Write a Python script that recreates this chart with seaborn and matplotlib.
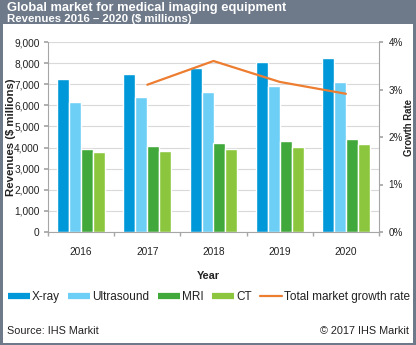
import matplotlib
matplotlib.use("Agg")
import matplotlib.pyplot as plt
import seaborn as sns
import pandas as pd
from matplotlib.patches import Rectangle
from matplotlib.lines import Line2D
from matplotlib.ticker import FuncFormatter, FixedLocator

years = ["2016", "2017", "2018", "2019", "2020"]
modalities = ["X-ray", "Ultrasound", "MRI", "CT"]
xray = [7230, 7470, 7780, 8040, 8260]
ultrasound = [6170, 6410, 6650, 6910, 7110]
mri = [3950, 4060, 4230, 4330, 4420]
ct = [3790, 3840, 3920, 4030, 4170]
growth_years = ["2017", "2018", "2019", "2020"]
growth_rate = [3.10, 3.60, 3.16, 2.91]
y_ticks = [0, 1000, 2000, 3000, 4000, 5000, 6000, 7000, 8000, 9000]
y2_ticks = [0, 1, 2, 3, 4]

colors = ["#0098d8", "#6dcff6", "#41a83b", "#8cc63f"]
line_color = "#ed7d31"
frame_gray = "#6e7a8a"
grid_gray = "#d9d9d9"
axis_gray = "#a6a6a6"
text_color = "#222222"

sns.set_theme(style="white")
plt.rcParams["font.family"] = ["Liberation Sans", "DejaVu Sans"]

df = pd.DataFrame({
    "Year": years * 4,
    "Modality": sum([[m] * len(years) for m in modalities], []),
    "Revenue": xray + ultrasound + mri + ct,
})

fig = plt.figure(figsize=(4.16, 3.45), dpi=100)
fig.patch.set_facecolor("white")
W, H = 416, 345

ax = fig.add_axes([48 / W, 1 - 232 / H, 331 / W, 190 / H])
sns.barplot(data=df, x="Year", y="Revenue", hue="Modality", order=years,
            hue_order=modalities, palette=colors, saturation=1, width=0.72,
            ax=ax, legend=False, errorbar=None)
ax.set_xlim(-0.5, len(years) - 0.5)
ax.set_ylim(0, 9000)
ax.set_yticks(y_ticks)
ax.yaxis.set_major_formatter(FuncFormatter(lambda v, p: f"{int(v):,}"))
ax.grid(axis="y", color=grid_gray, linewidth=0.8)
ax.set_axisbelow(True)
ax.spines["top"].set_visible(False)
ax.spines["right"].set_visible(False)
ax.spines["left"].set_color(axis_gray)
ax.spines["bottom"].set_color(axis_gray)
ax.spines["left"].set_linewidth(0.8)
ax.spines["bottom"].set_linewidth(0.8)
ax.tick_params(axis="y", which="major", left=True, length=3, color=axis_gray,
               labelsize=7.3, pad=3, labelcolor=text_color)
ax.tick_params(axis="x", which="major", bottom=False, labelsize=7.3, pad=5,
               labelcolor=text_color)
ax.xaxis.set_minor_locator(FixedLocator([i - 0.5 for i in range(len(years) + 1)]))
ax.tick_params(axis="x", which="minor", bottom=True, length=3, color=axis_gray)
ax.set_xlabel("")
ax.set_ylabel("")

ax2 = ax.twinx()
gx = [years.index(y) for y in growth_years]
sns.lineplot(x=gx, y=growth_rate, color=line_color, linewidth=1.6, ax=ax2)
ax2.set_ylim(0, 4)
ax2.set_yticks(y2_ticks)
ax2.yaxis.set_major_formatter(FuncFormatter(lambda v, p: f"{int(v)}%"))
ax2.tick_params(axis="y", right=True, length=3, color=axis_gray, labelsize=7.1,
                pad=4, labelcolor=text_color)
for s in ["top", "left", "bottom"]:
    ax2.spines[s].set_visible(False)
ax2.spines["right"].set_color(axis_gray)
ax2.spines["right"].set_linewidth(0.8)
ax2.set_ylabel("")
ax2.grid(False)
ax2.set_xlim(-0.5, len(years) - 0.5)

# Axis titles
fig.text(208 / W, 1 - 276 / H, "Year", fontsize=7.8, fontweight="bold",
         color=text_color, ha="center", va="center")
fig.text(11 / W, 1 - 137 / H, "Revenues ($ millions)", fontsize=8.2, fontweight="bold",
         color=text_color, ha="center", va="center", rotation=90)
fig.text(409.5 / W, 1 - 128 / H, "Growth Rate", fontsize=6.9, fontweight="bold",
         color=text_color, ha="center", va="center", rotation=90)

# Frame and header
fig.patches.append(Rectangle((0, 1 - 24 / H), 1, 24 / H, transform=fig.transFigure,
                             facecolor=frame_gray, edgecolor="none", zorder=-1))
fig.patches.append(Rectangle((0, 0), 3 / W, 1, transform=fig.transFigure,
                             facecolor=frame_gray, edgecolor="none", zorder=-1))
fig.patches.append(Rectangle((1 - 3 / W, 0), 3 / W, 1, transform=fig.transFigure,
                             facecolor=frame_gray, edgecolor="none", zorder=-1))
fig.patches.append(Rectangle((0, 0), 1, 2.5 / H, transform=fig.transFigure,
                             facecolor=frame_gray, edgecolor="none", zorder=-1))

fig.text(7 / W, 1 - 8 / H, "Global market for medical imaging equipment", color="white",
         fontsize=9.3, fontweight="bold", va="center", ha="left")
fig.text(7 / W, 1 - 19.5 / H, "Revenues 2016 \u2013 2020 ($ millions)", color="white",
         fontsize=8.2, fontweight="bold", va="center", ha="left")

handles = [Line2D([0], [0], color=c, linewidth=4.5, solid_capstyle="butt") for c in colors]
handles.append(Line2D([0], [0], color=line_color, linewidth=1.6))
labels = modalities + ["Total market growth rate"]
fig.legend(handles, labels, loc="center", bbox_to_anchor=(209 / W, 1 - 297 / H),
           ncol=5, frameon=False, fontsize=8.5, handlelength=1.85,
           handletextpad=0.2, columnspacing=0.7, borderaxespad=0, borderpad=0,
           labelcolor=text_color)

fig.text(7 / W, 1 - 331 / H, "Source: IHS Markit", fontsize=7.8, color=text_color,
         va="center", ha="left")
fig.text(409 / W, 1 - 331 / H, "\u00a9 2017 IHS Markit", fontsize=7.8, color=text_color,
         va="center", ha="right")

fig.savefig("out.png", dpi=100, facecolor="white")
